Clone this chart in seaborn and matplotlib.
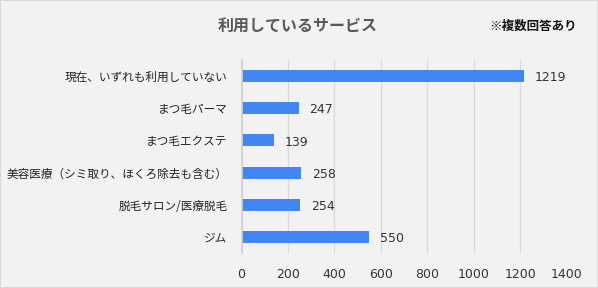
import matplotlib
matplotlib.use("Agg")
import matplotlib.pyplot as plt
import seaborn as sns
import pandas as pd

categories = ["現在、いずれも利用していない", "まつ毛パーマ", "まつ毛エクステ",
              "美容医療（シミ取り、ほくろ除去も含む）", "脱毛サロン/医療脱毛", "ジム"]
values = [1219, 247, 139, 258, 254, 550]
xticks = [0, 200, 400, 600, 800, 1000, 1200, 1400]

sns.set_theme(style="white")
plt.rcParams['font.family'] = ['Noto Sans CJK JP', 'DejaVu Sans']

df = pd.DataFrame({"cat": categories, "val": values})

fig = plt.figure(figsize=(5.98, 2.88), dpi=100, facecolor="#F2F2F2")
ax = fig.add_axes([241.5/598, 1-253/288, (566.5-241.5)/598, (253-60)/288])
ax.set_facecolor("#F2F2F2")
sns.barplot(data=df, x="val", y="cat", color="#4285F4", saturation=1, width=0.37,
            linewidth=0, edgecolor="none", ax=ax)

ax.set_xlim(0, 1400)
ax.set_xticks(xticks)
ax.set_xticklabels([str(t) for t in xticks], fontsize=9, color="#333333",
                   family=['DejaVu Sans'])
ax.tick_params(axis="x", length=0, pad=11)
ax.tick_params(axis="y", length=0, pad=10, labelsize=8.4, labelcolor="#222222")
ax.grid(axis="x", color="#D9D9D9", linewidth=0.9)
ax.set_axisbelow(True)
for s in ["top", "right", "bottom"]:
    ax.spines[s].set_visible(False)
ax.spines["left"].set_color("#D0D0D0")
ax.set_xlabel("")
ax.set_ylabel("")

for i, v in enumerate(values):
    ax.text(v + 45, i + 0.05, str(v), va="center", ha="left", fontsize=9, color="#333333",
            family=['DejaVu Sans'])

fig.text(298/598, 1-26/288, "利用しているサービス", ha="center", va="center",
         fontsize=11.5, fontweight="bold", color="#595959")
fig.text(533/598, 1-26/288, "※複数回答あり", ha="center", va="center",
         fontsize=9, fontweight="bold", color="#111111")

border = plt.Rectangle((0, 0), 1, 1, transform=fig.transFigure, fill=False,
                       edgecolor="#D9D9D9", linewidth=1.5)
fig.patches.append(border)

fig.savefig("out.png", dpi=100, facecolor="#F2F2F2")
